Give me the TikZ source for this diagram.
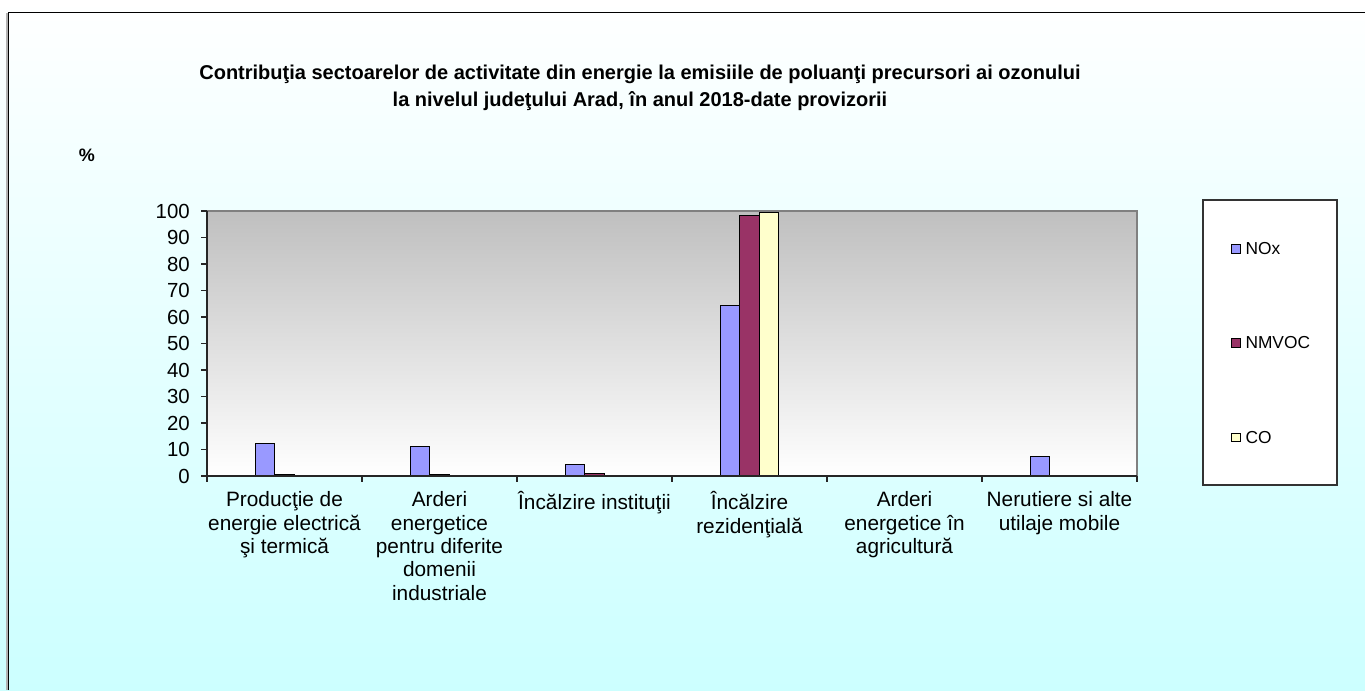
\documentclass[tikz,border=0pt]{standalone}
\usepackage{fontspec}
\setmainfont{Liberation Sans}
\usepackage{tikz}
\usetikzlibrary{positioning}
\definecolor{bgcyan}{RGB}{204,255,255}
\definecolor{noxcol}{RGB}{153,153,255}
\definecolor{voccol}{RGB}{153,51,102}
\definecolor{cocol}{RGB}{255,255,204}
\tikzstyle{bar}     = [draw=black, line width=0.8pt]
\tikzstyle{axtick}  = [black!85, line width=0.8pt]
\tikzstyle{ylab}    = [anchor=east, inner sep=0pt, font=\fontsize{15.3}{17.5}\selectfont]
\tikzstyle{cat}     = [anchor=north, inner sep=0pt, align=center,
                       font=\fontsize{15.6}{17.5}\selectfont]
\tikzstyle{title}   = [align=center, inner sep=0pt,
                       font=\bfseries\fontsize{15}{20.25}\selectfont]
\tikzstyle{legbox}  = [draw=black!80, fill=white, line width=0.8pt, inner sep=0pt,
                       minimum width=100.5pt, minimum height=213.75pt]
\tikzstyle{legmark} = [draw=black, line width=0.8pt, minimum size=6.5pt, inner sep=0pt]
\tikzstyle{legtext} = [inner sep=0pt, font=\fontsize{13}{15}\selectfont]
% one group of three bars: category, NOx, NMVOC, CO
\newcommand{\bargroup}[4]{
  \draw[bar, fill=noxcol] (#1+0.3125,0) rectangle (#1+0.4375,#2);
  \draw[bar, fill=voccol] (#1+0.4375,0) rectangle (#1+0.5625,#3);
  \draw[bar, fill=cocol]  (#1+0.5625,0) rectangle (#1+0.6875,#4);
}

\begin{document}
\begin{tikzpicture}[x=0.75pt, y=-0.75pt]
	\useasboundingbox (0,0) rectangle (1365,690);
	\shade[top color=white, bottom color=bgcyan] (0,0) rectangle (1365,690);
	\draw[gray!60, line width=0.8pt] (7,690) -- (7,13);
	\draw[black, line width=0.9pt] (8.5,690) -- (8.5,12.5) -- (1365,12.5);

	\node[title] (title) at (640,87.5) {Contribuţia sectoarelor de activitate din energie la emisiile de poluanţi precursori ai ozonului\\
		la nivelul judeţului Arad, în anul 2018-date provizorii};
	\node[inner sep=0pt, font=\bfseries\fontsize{13.5}{15}\selectfont] (pct) at (87,155) {\%};

	% plot area
	\shade[top color=gray!50, bottom color=white] (207,211) rectangle (1137,476);
	\draw[gray, line width=0.8pt] (207,211) -- (1137,211) -- (1137,476);

	\begin{scope}[shift={(207,476)}, x=116.25pt, y=1.9875pt]
		\foreach \v in {0,10,...,100} {
			\draw[axtick] (0,\v) -- ++(-4.5pt,0pt);
			\node[ylab, xshift=-12.75pt] (y\v) at (0,\v) {\v};
		}
		\foreach \i in {0,...,6}
			\draw[axtick] (\i,0) -- ++(0pt,-4.5pt);

		\bargroup{0}{12.2}{0.4}{0.3}
		\bargroup{1}{11.3}{0.4}{0.3}
		\bargroup{2}{4.5}{0.9}{0.3}
		\bargroup{3}{64.3}{98.3}{99.3}
		\bargroup{4}{0.3}{0.2}{0.2}
		\bargroup{5}{7.3}{0.2}{0.2}

		\draw[black!85, line width=1pt] (0,100) -- (0,0) -- (6,0);

		\node[cat, yshift=-11.5pt] (c1) at (0.5,0) {Producţie de\\energie electrică\\şi termică};
		\node[cat, yshift=-11.5pt] (c2) at (1.5,0) {Arderi\\energetice\\pentru diferite\\domenii\\industriale};
		\node[cat, yshift=-11.5pt] (c3) at (2.5,0) {Încălzire instituţii};
		\node[cat, yshift=-11.5pt] (c4) at (3.5,0) {Încălzire\\rezidenţială};
		\node[cat, yshift=-11.5pt] (c5) at (4.5,0) {Arderi\\energetice în\\agricultură};
		\node[cat, yshift=-11.5pt] (c6) at (5.5,0) {Nerutiere si alte\\utilaje mobile};
	\end{scope}

	% legend
	\node[legbox] (legend) at (1270,342.5) {};
	\node[legmark, fill=noxcol] (mnox) at (1236,249) {};
	\node[legtext, right=3.3pt of mnox] (tnox) {NOx};
	\node[legmark, fill=voccol] (mvoc) at (1236,343) {};
	\node[legtext, right=3.3pt of mvoc] (tvoc) {NMVOC};
	\node[legmark, fill=cocol] (mco) at (1236,437.5) {};
	\node[legtext, right=3.3pt of mco] (tco) {CO};
\end{tikzpicture}
\end{document}
